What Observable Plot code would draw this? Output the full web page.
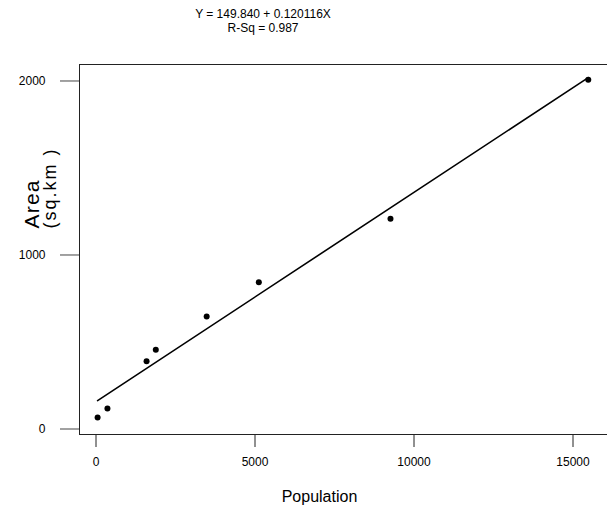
<!DOCTYPE html>
<html>
<head>
<meta charset="utf-8">
<script src="https://cdn.jsdelivr.net/npm/d3@7"></script>
<script src="https://cdn.jsdelivr.net/npm/@observablehq/plot@0.6"></script>
<style>
  html, body { margin: 0; padding: 0; background: #fff; overflow: hidden; }
  #title {
    width: 526px; height: 33px; padding-top: 7px;
    text-align: center; font-family: "Liberation Sans Narrow", "Liberation Sans", sans-serif;
    font-size: 12px; line-height: 14px; color: #000;
  }
  #chart svg { display: block; max-width: none !important; }
</style>
</head>
<body>
<div id="title"></div>
<div id="chart"></div>
<script>
// ---- data ----
const population = [50, 360, 1590, 1880, 3480, 5120, 9260, 15480];
const area       = [66, 118, 390, 455, 647, 844, 1208, 2007];
const xTicks = [0, 5000, 10000, 15000];
const yTicks = [0, 1000, 2000];
const titleLines = ["Y = 149.840 + 0.120116X", "R-Sq = 0.987"];
const xLabel = "Population";
const yLabelLines = ["Area", "(sq.km )"];

const data = population.map((p, i) => ({population: p, area: area[i]}));

document.getElementById("title").innerHTML = titleLines.join("<br>");

const chart = Plot.plot({
  width: 612,
  height: 468,
  marginLeft: 79,
  marginRight: 4,
  marginTop: 24,
  marginBottom: 74,
  style: {fontFamily: "'Liberation Sans Narrow', 'Liberation Sans', sans-serif", fontSize: "12px", background: "#fff", color: "#000", maxWidth: "none"},
  x: {domain: [-519, 16116], label: null},
  y: {domain: [-31.6, 2094.8], label: null},
  marks: [
    Plot.frame({stroke: "#222", strokeWidth: 1}),
    Plot.axisX(xTicks, {tickSize: 13, tickPadding: 10, label: null, stroke: "#222", tickFormat: d => String(d)}),
    Plot.axisY(yTicks, {tickSize: 19, tickPadding: 15, label: null, stroke: "#444", tickFormat: d => String(d)}),
    Plot.linearRegressionY(data, {x: "population", y: "area", ci: 0, stroke: "#000", strokeWidth: 1.6}),
    Plot.dot(data, {x: "population", y: "area", r: 3, fill: "#000", stroke: null}),
    Plot.text([xLabel], {text: d => d, frameAnchor: "bottom", lineAnchor: "bottom", dx: -24.5, dy: 67,
      fontSize: 16, fontFamily: "'Liberation Sans', Arial, sans-serif", fill: "#000"}),
    Plot.text([yLabelLines[0]], {text: d => d, frameAnchor: "left", rotate: -90, textAnchor: "start", lineAnchor: "bottom",
      dx: -41, dy: -21, fontSize: 21, fontFamily: "'Liberation Sans', Arial, sans-serif", fill: "#000"}),
    Plot.text([yLabelLines[1]], {text: d => d, frameAnchor: "left", rotate: -90, textAnchor: "start", lineAnchor: "bottom",
      dx: -24, dy: -21, fontSize: 18, fontFamily: "'Liberation Sans', Arial, sans-serif", fill: "#000"})
  ]
});
// widen the spacing of the rotated y-axis label lines, as in the reference
d3.select(chart).selectAll("text")
  .filter(function () { return this.textContent === yLabelLines[0]; })
  .attr("letter-spacing", 1.2);
d3.select(chart).selectAll("text")
  .filter(function () { return this.textContent === yLabelLines[1]; })
  .attr("letter-spacing", 2);
document.getElementById("chart").appendChild(chart);
</script>
</body>
</html>
